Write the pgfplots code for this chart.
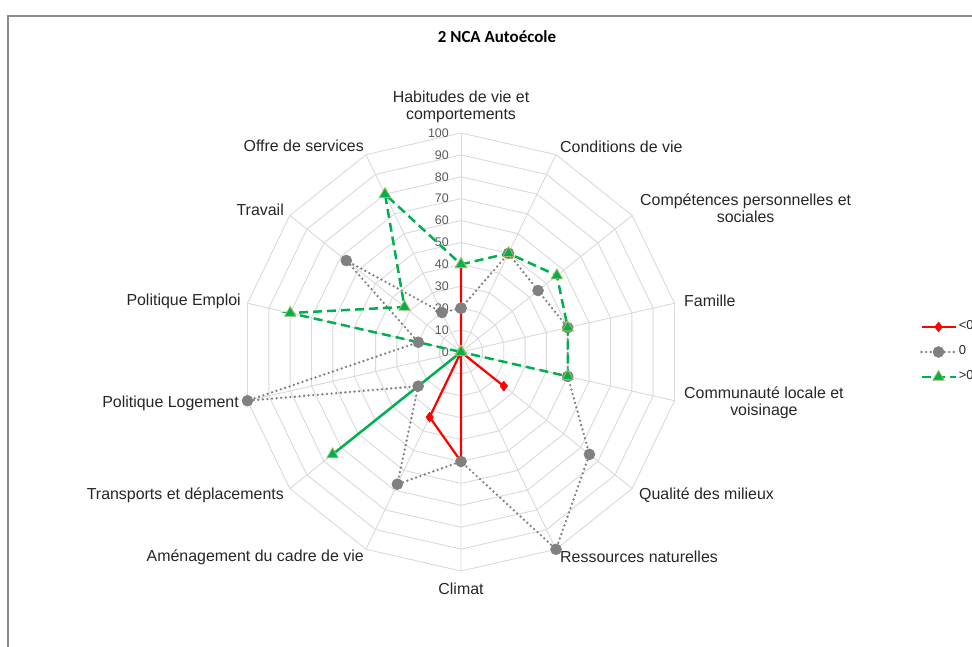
\documentclass[border=0pt]{standalone}
\usepackage{pgfplots}
\pgfplotsset{compat=1.18}
\usepgfplotslibrary{polar}
\usepackage{fontspec}
\setmainfont{Liberation Sans}
\newfontfamily\titlefont{Carlito}
\definecolor{gridc}{HTML}{D9D9D9}
\definecolor{redc}{HTML}{FF0000}
\definecolor{grayc}{HTML}{808080}
\definecolor{greenc}{HTML}{00B050}
\definecolor{greenedge}{HTML}{9BBB59}
\definecolor{txt}{HTML}{262626}
\definecolor{ticktxt}{HTML}{595959}
\definecolor{framec}{HTML}{8C8C8C}
\begin{document}
\begin{tikzpicture}
\begin{polaraxis}[
  width=438bp, height=438bp, scale only axis,
  hide axis, xtick=\empty, ytick=\empty,
  ymin=0, ymax=100, clip=false,
  legend style={at={(1.548,0.5)}, anchor=west, draw=none, fill=none,
    inner sep=0pt, row sep=9bp, font=\fontsize{13}{13}\selectfont,
    nodes={inner sep=2bp, text=txt, text height=9bp, text depth=3bp}},
  legend cell align=left,
  legend image code/.code={\draw[mark repeat=2,mark phase=2,#1] plot coordinates {(0bp,0bp) (17bp,0bp) (34bp,0bp)};},
]
% polygonal grid
\pgfplotsinvokeforeach{10,20,30,40,50,60,70,80,90,100}{
  \draw[gridc, line width=0.9bp] (axis cs:90,#1)
    \foreach \k in {1,...,13}{ -- (axis cs:{90-\k*360/14},#1)} -- cycle;
}
\pgfplotsinvokeforeach{0,1,2,3,4,5,6,7,8,9,10,11,12,13}{
  \draw[gridc, line width=0.9bp] (axis cs:0,0) -- (axis cs:{90-#1*360/14},100);
}
\pgfplotsinvokeforeach{0,10,20,30,40,50,60,70,80,90,100}{
  \node[anchor=east, xshift=-12bp, inner sep=0pt, text=ticktxt, font=\fontsize{12.5}{12.5}\selectfont] at (axis cs:90,#1) {#1};
}
\coordinate (O) at (axis cs:0,0);

% <0
\addplot[redc, line width=2.2bp, mark=diamond*, mark size=5bp,
  mark options={solid, fill=redc, draw=redc, line width=0.5bp}]
  coordinates {(90,40) (64.2857,0) (38.5714,0) (12.8571,0) (-12.8571,0)
  (-38.5714,25) (-64.2857,0) (-90,50) (-115.7143,33) (-141.4286,0)
  (-167.1429,0) (-192.8571,0) (-218.5714,0) (-244.2857,0) (-270,40)};
\addlegendentry{<0}
% 0
\addplot[grayc, line width=2.6bp, line cap=round, dash pattern=on 0bp off 4.6bp,
  mark=*, mark size=5.5bp, mark options={solid, fill=grayc, draw=grayc, line width=0.5bp}]
  coordinates {(90,20) (64.2857,50) (38.5714,45) (12.8571,50) (-12.8571,50)
  (-38.5714,75) (-64.2857,100) (-90,50) (-115.7143,67) (-141.4286,25)
  (-167.1429,100) (-192.8571,20) (-218.5714,67) (-244.2857,20) (-270,20)};
\addlegendentry{0}
% >0
\addplot[greenc, line width=2.5bp, dash pattern=on 9bp off 5bp,
  mark=triangle*, mark size=6.5bp, mark options={solid, fill=greenc, draw=greenedge, line width=0.8bp}]
  coordinates {(90,40) (64.2857,50) (38.5714,56) (12.8571,50) (-12.8571,50)
  (-38.5714,0) (-64.2857,0) (-90,0) (-115.7143,0) (-141.4286,75)
  (-167.1429,0) (-192.8571,80) (-218.5714,33) (-244.2857,80) (-270,40)};
\addlegendentry{>0}
\end{polaraxis}
\begin{scope}[shift={(O)}, x=1bp, y=1bp, every node/.style={inner sep=0pt, text=txt, font=\fontsize{16}{17}\selectfont}]
\node[font=\titlefont\bfseries\fontsize{17}{17}\selectfont, text=black] at (36,315) {2 NCA Autoécole};
\node[anchor=south, align=center] at (0,229) {Habitudes de vie et\\comportements};
\node[anchor=south west] at (99,199) {Conditions de vie};
\node[anchor=west, align=center] at (179,144) {Compétences personnelles et\\sociales};
\node[anchor=west] at (223,51) {Famille};
\node[anchor=west, align=center] at (223,-51) {Communauté locale et\\voisinage};
\node[anchor=west] at (178,-143) {Qualité des milieux};
\node[anchor=west] at (99,-205) {Ressources naturelles};
\node at (0,-237) {Climat};
\node[anchor=east] at (-97,-205) {Aménagement du cadre de vie};
\node[anchor=east] at (-177,-143) {Transports et déplacements};
\node[anchor=east] at (-222,-51) {Politique Logement};
\node[anchor=east] at (-220,51) {Politique Emploi};
\node[anchor=east] at (-177,142) {Travail};
\node[anchor=east] at (-97,206) {Offre de services};
\draw[framec, line width=1.5bp] (-453,336) rectangle (560,-340);
\pgfresetboundingbox
\path[use as bounding box] (-461,-295) rectangle (511,352);
\end{scope}
\end{tikzpicture}
\end{document}
